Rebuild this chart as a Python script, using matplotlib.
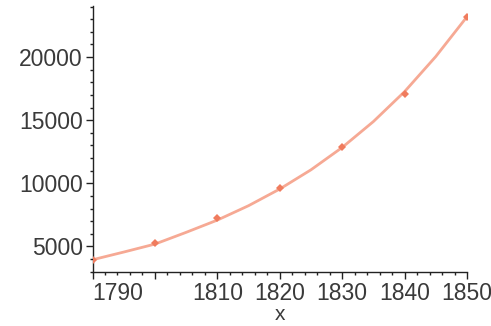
import matplotlib
matplotlib.use('Agg')
import matplotlib.pyplot as plt
from matplotlib.ticker import MultipleLocator

plt.rcParams['font.family'] = ['Liberation Sans', 'DejaVu Sans']

# census points (thousands)
years = [1790, 1800, 1810, 1820, 1830, 1840, 1850]
population = [3929, 5308, 7240, 9638, 12866, 17069, 23192]

# fitted curve, every 5 years
curve_x = [1790, 1795, 1800, 1805, 1810, 1815, 1820, 1825, 1830, 1835, 1840, 1845, 1850]
curve_y = [3950, 4560, 5190, 6120, 7090, 8230, 9550, 11070, 12840, 14890, 17260, 20040, 23190]

x_ticks = [1790, 1800, 1810, 1820, 1830, 1840, 1850]
x_ticklabels = ['1790', '', '1810', '1820', '1830', '1840', '1850']
y_ticks = [5000, 10000, 15000, 20000]

LINE_COLOR = '#f6a994'
POINT_COLOR = '#f07c5e'
AXIS_COLOR = '#222222'
TEXT_COLOR = '#3a3a3a'

fig = plt.figure(figsize=(4.91, 3.26), dpi=100)
ax = fig.add_axes([0.1884, 0.1656, 0.7627, 0.816])

ax.plot(curve_x, curve_y, color=LINE_COLOR, linewidth=2.0, solid_capstyle='round', zorder=2)
ax.plot(years, population, linestyle='None', marker='D', markersize=4,
        color=POINT_COLOR, markeredgewidth=0, zorder=3)

ax.set_xlim(1790, 1850)
ax.set_ylim(2980, 24040)

for s in ['top', 'right']:
    ax.spines[s].set_visible(False)
for s in ['left', 'bottom']:
    ax.spines[s].set_color(AXIS_COLOR)
    ax.spines[s].set_linewidth(1.0)

ax.set_xticks(x_ticks)
ax.set_xticklabels(x_ticklabels)
ax.xaxis.set_minor_locator(MultipleLocator(2))
ax.set_yticks(y_ticks)
ax.yaxis.set_minor_locator(MultipleLocator(1000))

ax.tick_params(axis='both', which='major', direction='out', length=5, width=1.0,
               color=AXIS_COLOR, labelsize=16.5, labelcolor=TEXT_COLOR)
ax.tick_params(axis='both', which='minor', direction='out', length=2.5, width=1.0,
               color=AXIS_COLOR)
ax.tick_params(axis='y', which='major', pad=2)
ax.tick_params(axis='x', which='major', pad=2)

# first x label sits to the right of its tick
ax.get_xticklabels()[0].set_horizontalalignment('left')

ax.set_xlabel('x', fontsize=15, color=TEXT_COLOR, labelpad=0.5)

fig.savefig('out.png', dpi=100)
